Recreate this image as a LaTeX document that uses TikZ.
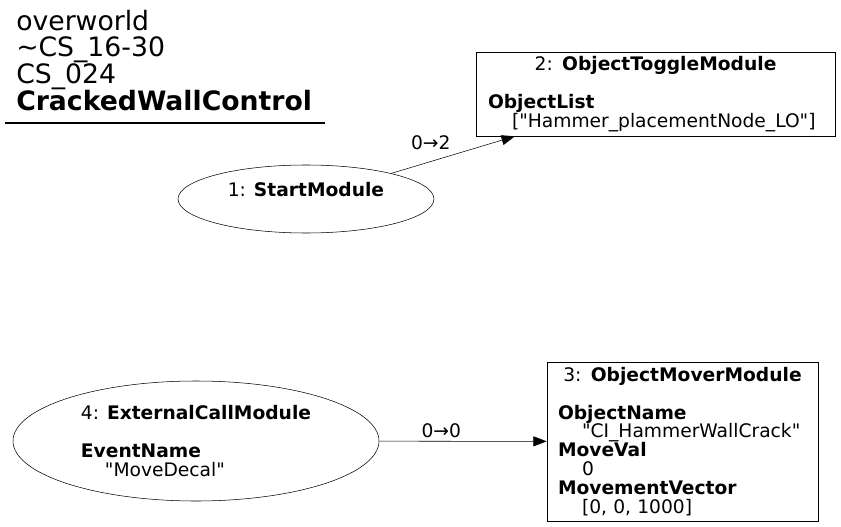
\documentclass[tikz,border=0pt]{standalone}
\usepackage{fontspec}
\setmainfont{DejaVu Sans}
\usetikzlibrary{arrows.meta,shapes.geometric}
\tikzset{
	->, % edges are directed
	>={Triangle[length=10pt,width=7.5pt]},
	line width=0.8pt,
	every node/.style={font=\fontsize{14}{14.1}\selectfont},
	module/.style={draw, ellipse, inner sep=2pt},
	box/.style={draw, rectangle, inner xsep=9pt, inner ysep=3pt, align=left},
	edgelabel/.style={inner sep=2.5pt},
	title/.style={font=\fontsize{20}{20}\selectfont, align=left, inner sep=0pt, anchor=north west},
}
\newcommand\qt{\textquotedbl}

\begin{document}
\begin{tikzpicture}[x=0.75pt, y=-0.75pt]
  \useasboundingbox (0,0) rectangle (841,527);

  \node[title] (t) at (16,9.7) {overworld\\\textasciitilde CS\_16-30\\CS\_024\\\textbf{CrackedWallControl}};
  \draw[-, line width=0.8pt] (5,123) -- (325,123);

  \node[module, minimum width=192pt, minimum height=51pt, align=center] (1) at (306,199) {1: \textbf{StartModule}\\ \mbox{}};
  \node[box, minimum width=269.25pt, minimum height=63pt, text width=251.25pt] (2) at (655.5,94)
    {\makebox[\linewidth]{2: \textbf{ObjectToggleModule}}\\[14.1pt]
     \textbf{ObjectList}\\ \hspace*{18pt}[\qt Hammer\_placementNode\_LO\qt]};
  \node[box, minimum width=203.25pt, minimum height=119.25pt, inner xsep=8.25pt, text width=186.75pt] (3) at (682.5,441.5)
    {\makebox[\linewidth]{3: \textbf{ObjectMoverModule}}\\[14.1pt]
     \textbf{ObjectName}\\ \hspace*{18pt}\qt CI\_HammerWallCrack\qt\\
     \textbf{MoveVal}\\ \hspace*{18pt}0\\
     \textbf{MovementVector}\\ \hspace*{18pt}[0, 0, 1000]};
  \node[module, minimum width=274.5pt, minimum height=90pt, align=left] (4) at (196,441)
    {4: \textbf{ExternalCallModule}\\[14.1pt] \textbf{EventName}\\ \hspace*{18pt}\qt MoveDecal\qt};

  \draw (1) -- node[edgelabel, pos=0.32, above=6pt] {0→2} (2);
  \draw (4) -- node[edgelabel, pos=0.37, above] {0→0} (3);
\end{tikzpicture}
\end{document}
